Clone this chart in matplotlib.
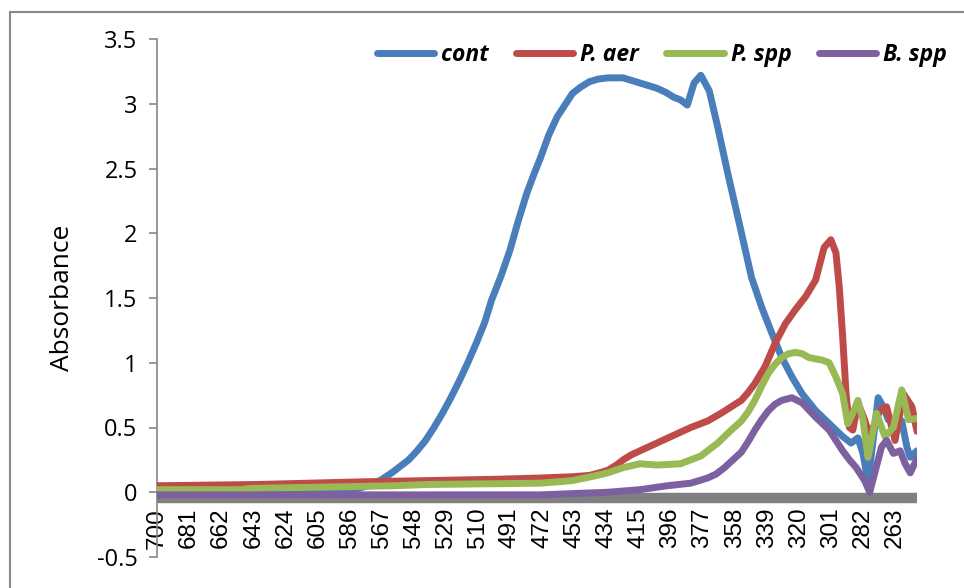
import matplotlib
matplotlib.use("Agg")
import matplotlib.pyplot as plt
from matplotlib.patches import Rectangle
from matplotlib.ticker import FuncFormatter

# UV-vis spectra, wavelength (nm) vs absorbance
cont_wl = [700, 620, 590, 581, 575, 568, 561, 556, 551, 546, 541, 536, 531, 526, 521, 516, 511, 506, 502,
           496, 491, 486, 481, 477, 473, 468, 463, 458, 454, 449, 444, 439, 433, 428, 424, 419, 414, 409,
           404, 399, 394, 390, 386, 382, 378, 373, 368, 362, 356, 348, 342, 336, 330, 324, 318,
           310, 302, 294, 289, 285, 282, 279, 276, 273, 270, 267, 263, 259, 256, 254, 250]
cont_abs = [0.0, 0.0, 0.01, 0.03, 0.05, 0.09, 0.15, 0.20, 0.25, 0.32, 0.40, 0.50, 0.61, 0.73, 0.86, 1.00, 1.15, 1.31, 1.48,
            1.68, 1.87, 2.10, 2.31, 2.45, 2.58, 2.76, 2.90, 3.00, 3.08, 3.13, 3.17, 3.19, 3.20, 3.20, 3.20, 3.18, 3.16, 3.14,
            3.12, 3.09, 3.05, 3.03, 2.99, 3.16, 3.22, 3.10, 2.82, 2.46, 2.12, 1.66, 1.43, 1.23, 1.04, 0.89, 0.76,
            0.63, 0.53, 0.43, 0.38, 0.42, 0.30, 0.08, 0.40, 0.73, 0.66, 0.56, 0.55, 0.55, 0.35, 0.27, 0.32]

paer_wl = [700, 640, 580, 540, 500, 473, 454, 444, 438, 433, 428, 424, 419, 414, 409, 404, 394, 384, 374, 366, 360,
           354, 350, 346, 340, 334, 328, 322, 316, 310, 307, 305, 301, 298, 296, 294, 292, 290, 288, 285, 281,
           278, 272, 268, 263, 258, 253, 250]
paer_abs = [0.05, 0.06, 0.08, 0.09, 0.10, 0.11, 0.12, 0.13, 0.15, 0.17, 0.21, 0.25, 0.29, 0.32, 0.35, 0.38, 0.44, 0.50, 0.55, 0.61, 0.66,
            0.71, 0.77, 0.84, 0.97, 1.15, 1.30, 1.41, 1.51, 1.64, 1.79, 1.89, 1.95, 1.85, 1.58, 1.20, 0.76, 0.50, 0.48, 0.69, 0.56,
            0.43, 0.63, 0.66, 0.40, 0.76, 0.66, 0.47]

pspp_wl = [700, 650, 645, 600, 560, 540, 473, 454, 443, 433, 424, 414, 404, 390, 384, 378, 373, 368, 364, 360, 354,
           350, 346, 342, 338, 334, 330, 326, 322, 318, 314, 306, 302, 298, 294, 291, 288, 285, 282, 279, 274,
           269, 264, 259, 255, 250]
pspp_abs = [0.02, 0.02, 0.03, 0.04, 0.05, 0.06, 0.07, 0.09, 0.12, 0.15, 0.19, 0.22, 0.21, 0.22, 0.25, 0.28, 0.33, 0.38, 0.43, 0.48, 0.55,
            0.62, 0.71, 0.82, 0.92, 0.99, 1.04, 1.07, 1.08, 1.07, 1.04, 1.02, 1.00, 0.89, 0.76, 0.53, 0.61, 0.71, 0.56, 0.27, 0.61,
            0.43, 0.50, 0.79, 0.56, 0.57]

bspp_wl = [700, 540, 473, 433, 414, 398, 384, 374, 369, 364, 359, 354, 350, 346, 342, 338, 334, 330, 324, 318,
           310, 302, 294, 290, 286, 281, 278, 275, 271, 268, 264, 260, 257, 254, 250]
bspp_abs = [-0.02, -0.02, -0.02, 0.0, 0.02, 0.05, 0.07, 0.11, 0.14, 0.19, 0.25, 0.31, 0.39, 0.48, 0.56, 0.63, 0.68, 0.71, 0.73, 0.69,
            0.58, 0.48, 0.32, 0.25, 0.19, 0.09, 0.0, 0.15, 0.35, 0.40, 0.30, 0.32, 0.22, 0.15, 0.26]

series = [("cont", cont_wl, cont_abs, "#4A7EBB"),
          ("P. aer", paer_wl, paer_abs, "#BE4B48"),
          ("P. spp", pspp_wl, pspp_abs, "#98B954"),
          ("B. spp", bspp_wl, bspp_abs, "#7D60A0")]

xticks = list(range(700, 262, -19))
yticks = [-0.5, 0, 0.5, 1, 1.5, 2, 2.5, 3, 3.5]

plt.rcParams["axes.unicode_minus"] = False

fig = plt.figure(figsize=(9.64, 5.88), dpi=100)
ax = fig.add_axes([157/964, 1 - 557/588, 760/964, 518/588])

for name, wl, ab, col in series:
    ax.plot(wl, ab, color=col, lw=5, label=name, zorder=3,
            solid_capstyle="round", solid_joinstyle="round")

for s in ["top", "right"]:
    ax.spines[s].set_visible(False)
ax.spines["left"].set_color("#868686")
ax.spines["left"].set_linewidth(1.2)
# thick grey category axis sitting on zero
ax.spines["bottom"].set_position(("data", -0.045))
ax.spines["bottom"].set_color("#808080")
ax.spines["bottom"].set_linewidth(7.5)
ax.spines["bottom"].set_capstyle("butt")

ax.set_xlim(700, 250)
ax.set_ylim(-0.5, 3.5)
ax.set_yticks(yticks)
ax.yaxis.set_major_formatter(FuncFormatter(lambda v, p: "%g" % v))
ax.set_xticks(xticks)
ax.set_xticklabels([str(t) for t in xticks], rotation=90, fontsize=17.5,
                   family="Liberation Sans")

ax.tick_params(axis="x", length=0, pad=7)
ax.tick_params(axis="y", length=6, width=1.2, color="#868686", pad=8, labelsize=17)
for lab in ax.get_yticklabels():
    lab.set_family("Open Sans")

ax.set_ylabel("Absorbance", fontsize=19, family="Open Sans")
ax.yaxis.set_label_coords(-0.108, 0.5)

leg = ax.legend(loc="upper right", bbox_to_anchor=(947/964, 1 - 43/588),
                bbox_transform=fig.transFigure, ncol=4, frameon=False,
                prop={"family": "Open Sans", "weight": "bold", "style": "italic", "size": 16.5},
                handlelength=2.5, handletextpad=0.3, columnspacing=1.2,
                borderpad=0, borderaxespad=0)

fig.patches.append(Rectangle((10/964, -0.1), 1.2, 1.1 - 12/588, transform=fig.transFigure,
                             fill=False, edgecolor="#898989", lw=1.5))

fig.savefig("out.png", dpi=100)
